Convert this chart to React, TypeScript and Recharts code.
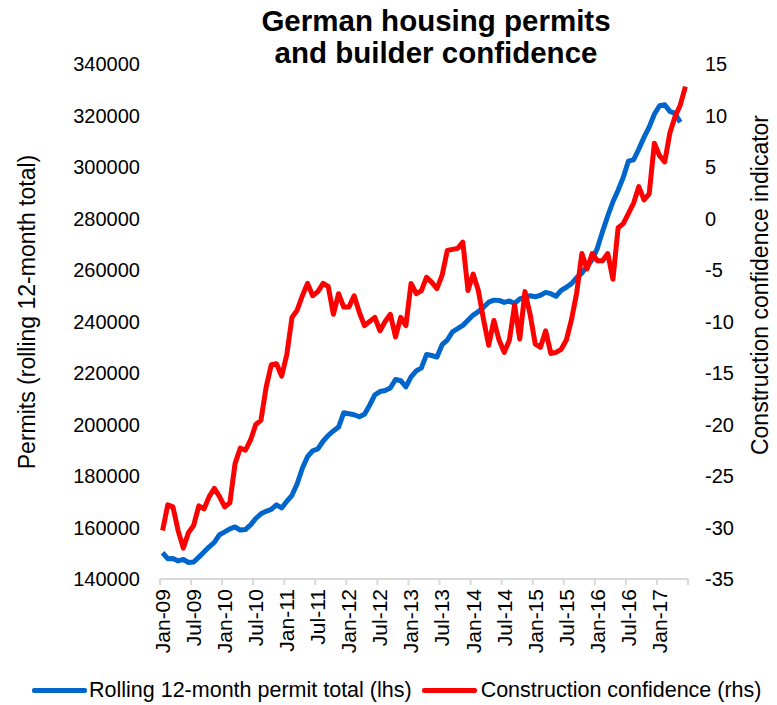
import { LineChart, Line, XAxis, YAxis } from 'recharts';

const monthNames = ['Jan', 'Feb', 'Mar', 'Apr', 'May', 'Jun', 'Jul', 'Aug', 'Sep', 'Oct', 'Nov', 'Dec'];
const years = ['09', '10', '11', '12', '13', '14', '15', '16', '17'];

// Jan-09 .. Jun-17
const months: string[] = [];
years.forEach(y => monthNames.forEach(m => months.push(m + '-' + y)));
months.length = 102;

// rolling 12-month permit total (lhs), Jan-09 .. May-17
const permits = [
  150200, 147900, 148000, 147000, 147600, 146400, 146600, 148500, 150500, 152500, 154200, 157200,
  158300, 159500, 160200, 159000, 159200, 161000, 163500, 165300, 166300, 167000, 168800, 167600,
  170200, 172500, 177000, 183000, 187500, 189800, 190500, 193500, 195800, 197500, 199000, 204600,
  204200, 203800, 203000, 204000, 207500, 211500, 212800, 213200, 214200, 217500, 217000, 214600,
  218500, 220800, 222000, 227200, 226800, 226200, 231000, 232800, 236000, 237200, 238500, 240500,
  242500, 243800, 245500, 247500, 248300, 248200, 247400, 248000, 247000, 248800, 249500, 250000,
  249600, 250200, 251300, 250800, 249800, 252100, 253300, 254700, 257000, 258800, 261500, 264000,
  268500, 275000, 281000, 286500, 291000, 296000, 302300, 302800, 307000, 311500, 315500, 320500,
  323800, 324200, 321600, 320800, 317400,
];

// construction confidence (rhs), Jan-09 .. Jun-17
const confidence = [
  -30.3, -27.8, -28.0, -30.3, -32.0, -30.5, -29.8, -27.9, -28.2, -27.0, -26.2, -27.0,
  -28.0, -27.6, -23.8, -22.3, -22.5, -21.5, -20.0, -19.6, -16.4, -14.2, -14.1, -15.3,
  -13.2, -9.6, -8.9, -7.5, -6.3, -7.5, -7.1, -6.3, -6.6, -9.3, -7.3, -8.6,
  -8.6, -7.5, -9.1, -10.4, -10.0, -9.6, -10.9, -10.0, -9.3, -11.5, -9.6, -10.4,
  -6.3, -7.3, -7.0, -5.7, -6.2, -6.8, -5.5, -3.1, -3.0, -2.9, -2.3, -7.0,
  -5.4, -7.0, -9.8, -12.3, -9.9, -11.8, -13.0, -11.8, -8.4, -11.7, -7.1, -9.3,
  -12.2, -12.5, -10.9, -13.1, -13.0, -12.7, -11.8, -9.8, -7.2, -3.4, -4.9, -3.4,
  -4.1, -4.1, -3.4, -5.9, -0.9, -0.5, 0.5, 1.5, 3.1, 1.8, 2.4, 7.3,
  6.1, 5.5, 8.3, 9.9, 11.0, 12.8,
];

const leftTicks = [140000, 160000, 180000, 200000, 220000, 240000, 260000, 280000, 300000, 320000, 340000];
const rightTicks = [-35, -30, -25, -20, -15, -10, -5, 0, 5, 10, 15];

const data = months.map((m, i) => ({ month: m, permits: permits[i], confidence: confidence[i] }));

const FONT = '"Liberation Sans", Arial, sans-serif';
const BAND = 528 / 102;

function MonthTick(props: any) {
  const { x, y, payload } = props;
  const tx = x - BAND / 2;
  return (
    <g>
      <line x1={tx} y1={y} x2={tx} y2={y + 6} stroke="#d9d9d9" strokeWidth={2} />
      {payload.value === 'Jan-17' && (
        <line x1={tx + BAND * 6} y1={y} x2={tx + BAND * 6} y2={y + 6} stroke="#d9d9d9" strokeWidth={2} />
      )}
      <text
        x={x}
        y={y + 10}
        dy="0.35em"
        transform={`rotate(-90, ${x}, ${y + 10})`}
        textAnchor="end"
        fill="#000"
        fontSize={21}
        fontFamily={FONT}
      >
        {payload.value}
      </text>
    </g>
  );
}

export default function App() {
  return (
    <div style={{ position: 'absolute', left: 0, top: 0, width: 777, height: 705, background: '#fff', fontFamily: FONT }}>
      <LineChart width={777} height={705} data={data} margin={{ top: 64, right: 0, left: 0, bottom: 46 }}>
        <XAxis
          dataKey="month"
          interval={5}
          height={80}
          padding={{ left: BAND / 2, right: BAND / 2 }}
          axisLine={{ stroke: '#d9d9d9', strokeWidth: 2 }}
          tickLine={false}
          tickSize={0}
          tickMargin={0}
          tick={<MonthTick />}
        />
        <YAxis
          yAxisId="left"
          orientation="left"
          width={160}
          domain={[140000, 340000]}
          ticks={leftTicks}
          axisLine={false}
          tickLine={false}
          tickSize={0}
          tickMargin={20}
          tick={{ fill: '#000', fontSize: 20, fontFamily: FONT }}
        />
        <YAxis
          yAxisId="right"
          orientation="right"
          width={89}
          domain={[-35, 15]}
          ticks={rightTicks}
          axisLine={false}
          tickLine={false}
          tickSize={0}
          tickMargin={17}
          tick={{ fill: '#000', fontSize: 20, fontFamily: FONT }}
        />
        <Line
          yAxisId="left"
          type="linear"
          dataKey="permits"
          stroke="#0066cc"
          strokeWidth={5}
          dot={false}
          activeDot={false}
          strokeLinejoin="round"
          isAnimationActive={false}
        />
        <Line
          yAxisId="right"
          type="linear"
          dataKey="confidence"
          stroke="#ff0000"
          strokeWidth={5}
          dot={false}
          activeDot={false}
          strokeLinejoin="round"
          isAnimationActive={false}
        />
      </LineChart>

      <div
        style={{
          position: 'absolute', left: 436, top: 5, transform: 'translateX(-50%)', whiteSpace: 'nowrap',
          textAlign: 'center', fontSize: 29.5, fontWeight: 'bold', lineHeight: '31.5px', color: '#000',
        }}
      >
        German housing permits<br />and builder confidence
      </div>

      <div
        style={{
          position: 'absolute', left: 27, top: 312, transform: 'translate(-50%, -50%) rotate(-90deg)',
          whiteSpace: 'nowrap', fontSize: 23, color: '#000',
        }}
      >
        Permits (rolling 12-month total)
      </div>
      <div
        style={{
          position: 'absolute', left: 760, top: 285, transform: 'translate(-50%, -50%) rotate(-90deg)',
          whiteSpace: 'nowrap', fontSize: 23, color: '#000',
        }}
      >
        Construction confidence indicator
      </div>

      <div
        style={{
          position: 'absolute', left: 32, top: 676, display: 'flex', alignItems: 'center',
          fontSize: 21.5, color: '#000', whiteSpace: 'nowrap', lineHeight: '28px',
        }}
      >
        <span style={{ display: 'inline-block', width: 55, height: 5, background: '#0066cc', borderRadius: 2, marginRight: 2 }} />
        <span>Rolling 12-month permit total (lhs)</span>
        <span style={{ display: 'inline-block', width: 55, height: 5, background: '#ff0000', borderRadius: 2, marginLeft: 10, marginRight: 4 }} />
        <span>Construction confidence (rhs)</span>
      </div>
    </div>
  );
}
